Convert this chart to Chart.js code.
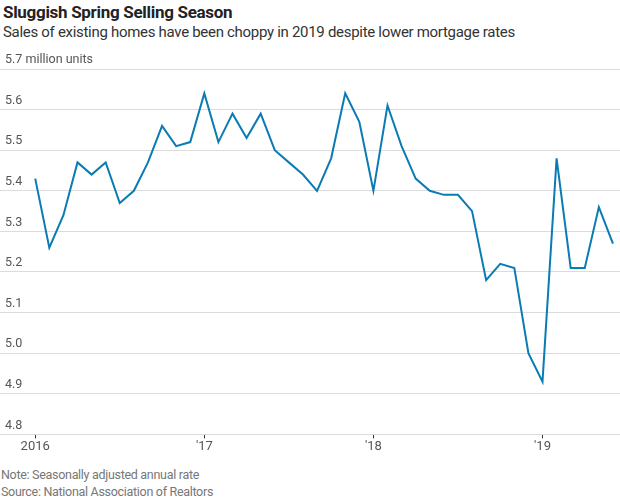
<!DOCTYPE html>
<html>
<head>
<meta charset="utf-8">
<script src="https://cdn.jsdelivr.net/npm/chart.js@4"></script>
<style>
  body{margin:0;width:620px;height:500px;background:#fff;font-family:Roboto,"Noto Sans",sans-serif;position:relative;overflow:hidden}
  #title{position:absolute;left:3px;top:2px;font-size:17px;font-weight:bold;color:#222;letter-spacing:-0.3px}
  #sub{position:absolute;left:3px;top:23px;font-size:15px;color:#333;letter-spacing:-0.3px}
  #box{position:absolute;left:0;top:45px;width:620px;height:420px}
  .foot{position:absolute;left:1px;font-size:12.5px;color:#777;letter-spacing:-0.3px}
</style>
</head>
<body>
<div id="title">Sluggish Spring Selling Season</div>
<div id="sub">Sales of existing homes have been choppy in 2019 despite lower mortgage rates</div>
<div id="box"><canvas id="chart"></canvas></div>
<div class="foot" style="top:467px">Note: Seasonally adjusted annual rate</div>
<div class="foot" style="top:484px">Source: National Association of Realtors</div>
<script>
// meses desde ene 2016 hasta jun 2019
const months = [
  'Jan 2016','Feb 2016','Mar 2016','Apr 2016','May 2016','Jun 2016','Jul 2016','Aug 2016','Sep 2016','Oct 2016','Nov 2016','Dec 2016',
  'Jan 2017','Feb 2017','Mar 2017','Apr 2017','May 2017','Jun 2017','Jul 2017','Aug 2017','Sep 2017','Oct 2017','Nov 2017','Dec 2017',
  'Jan 2018','Feb 2018','Mar 2018','Apr 2018','May 2018','Jun 2018','Jul 2018','Aug 2018','Sep 2018','Oct 2018','Nov 2018','Dec 2018',
  'Jan 2019','Feb 2019','Mar 2019','Apr 2019','May 2019','Jun 2019'
];
const sales = [
  5.43,5.26,5.34,5.47,5.44,5.47,5.37,5.40,5.47,5.56,5.51,5.52,
  5.64,5.52,5.59,5.53,5.59,5.50,5.47,5.44,5.40,5.48,5.64,5.57,
  5.40,5.61,5.51,5.43,5.40,5.39,5.39,5.35,5.18,5.22,5.21,5.00,
  4.93,5.48,5.21,5.21,5.36,5.27
];
const yearTicks = [0,12,24,36];
const yearLabels = ['2016',"'17","'18","'19"];

const points = sales.map((v,i) => ({x:i, y:v}));

new Chart(document.getElementById('chart'), {
  type:'line',
  data:{
    datasets:[{
      label:'Existing home sales',
      data:points,
      borderColor:'#0a7bb3',
      borderWidth:2,
      pointRadius:0,
      tension:0,
      fill:false
    }]
  },
  options:{
    responsive:true,
    maintainAspectRatio:false,
    animation:false,
    layout:{padding:{top:24,left:0,right:0,bottom:9}},
    plugins:{legend:{display:false},tooltip:{enabled:false}},
    scales:{
      x:{
        type:'linear',
        min:-2.5,
        max:41.5,
        afterBuildTicks:(s)=>{ s.ticks = yearTicks.map(v=>({value:v})); },
        grid:{drawOnChartArea:false,drawTicks:true,tickLength:4,color:'#333'},
        border:{display:true,color:'#dcdcdc',width:1},
        ticks:{
          color:'#555',
          font:{family:'Roboto',size:13},
          padding:1,
          maxRotation:0,
          autoSkip:false,
          callback:(v)=>yearLabels[yearTicks.indexOf(v)]
        }
      },
      y:{
        min:4.8,
        max:5.7,
        afterFit:(s)=>{ s.width = 0; },
        grid:{color:'#dcdcdc',drawTicks:false},
        border:{display:false},
        ticks:{
          stepSize:0.1,
          mirror:true,
          padding:5,
          labelOffset:-9,
          color:'#555',
          font:{family:'Roboto',size:12.5},
          callback:(v)=> v > 5.69 ? '5.7 million units' : v.toFixed(1)
        }
      }
    }
  }
});
</script>
</body>
</html>
